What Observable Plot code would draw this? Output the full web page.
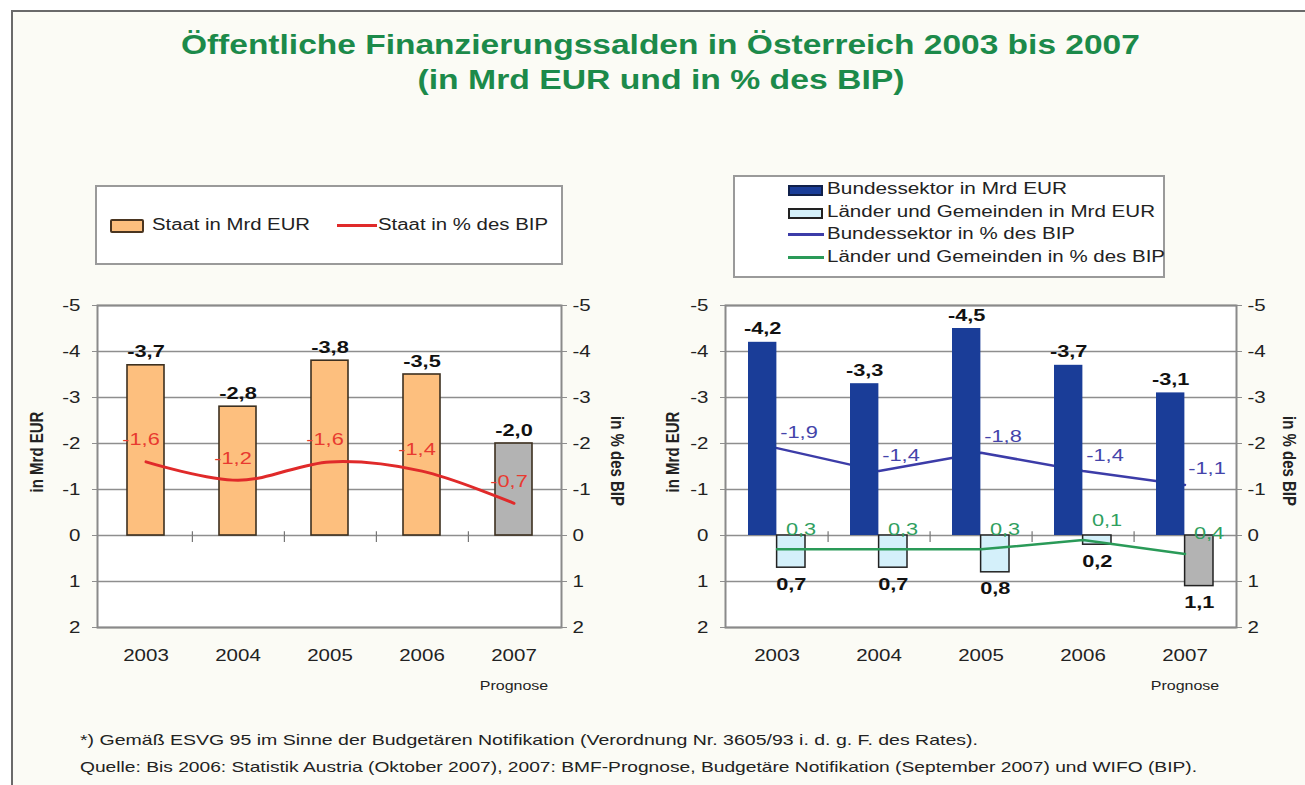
<!DOCTYPE html>
<html>
<head>
<meta charset="utf-8">
<script src="https://cdn.jsdelivr.net/npm/d3@7"></script>
<script src="https://cdn.jsdelivr.net/npm/@observablehq/plot@0.6"></script>
<style>
  html, body { margin: 0; padding: 0; background: #ffffff; }
  #page { position: relative; width: 1305px; height: 785px; overflow: hidden; background: #ffffff;
          font-family: "Liberation Sans", Arial, sans-serif; color: #222; }
  #sheet { position: absolute; left: 11px; top: 10px; right: 0; bottom: 0; background: #fbfbf5;
           border-top: 2px solid #6a6a6a; border-left: 2px solid #6a6a6a; }
  .title { position: absolute; left: 8px; width: 1305px; text-align: center; color: #1c8a4a;
           font-weight: bold; font-size: 27px; line-height: 32px; }
  .title span { display: inline-block; transform-origin: 50% 50%; }
  .legend { position: absolute; background: #fff; border: 2px solid #9a9a9a; box-sizing: border-box; }
  .item { position: absolute; font-size: 16px; line-height: 18px; white-space: nowrap; transform-origin: 0 50%; }
  .sw { position: absolute; }
  .foot { position: absolute; left: 80px; font-size: 14.5px; line-height: 18px; white-space: nowrap; color: #222;
          transform-origin: 0 50%; }
  .atitle { position: absolute; font-weight: bold; font-size: 15px; white-space: nowrap; color: #222; }
  svg.chart { position: absolute; }
</style>
</head>
<body>
<div id="page">
  <div id="sheet"></div>
  <div class="title" style="top:29px;"><span data-w="959">Öffentliche Finanzierungssalden in Österreich 2003 bis 2007</span></div>
  <div class="title" style="top:64px;"><span data-w="487">(in Mrd EUR und in % des BIP)</span></div>

  <div class="legend" style="left:95px; top:185px; width:468px; height:80px;">
    <div class="sw" style="left:13px; top:32px; width:30px; height:10px; background:#fdbf7e; border:2px solid #4a3520; border-radius:2px;"></div>
    <div class="item" data-w="158" style="left:55px; top:29px;">Staat in Mrd EUR</div>
    <div class="sw" style="left:240px; top:37px; width:40px; height:3px; background:#e02a2a;"></div>
    <div class="item" data-w="170" style="left:281px; top:29px;">Staat in % des BIP</div>
  </div>

  <div class="legend" style="left:733px; top:175px; width:432px; height:103px;">
    <div class="sw" style="left:53px; top:8px; width:31px; height:7px; background:#1a3d98; border:2px solid #10204a;"></div>
    <div class="item" data-w="240" style="left:92px; top:3px;">Bundessektor in Mrd EUR</div>
    <div class="sw" style="left:53px; top:31px; width:31px; height:7px; background:#d4f0fa; border:2px solid #222;"></div>
    <div class="item" data-w="328" style="left:92px; top:26px;">Länder und Gemeinden in Mrd EUR</div>
    <div class="sw" style="left:53px; top:56px; width:36px; height:3px; background:#3c3ca8;"></div>
    <div class="item" data-w="248" style="left:92px; top:48px;">Bundessektor in % des BIP</div>
    <div class="sw" style="left:53px; top:79px; width:36px; height:3px; background:#2a9a58;"></div>
    <div class="item" data-w="338" style="left:92px; top:71px;">Länder und Gemeinden in % des BIP</div>
  </div>

  <div class="foot" data-w="898" style="top:731px;">*) Gemäß ESVG 95 im Sinne der Budgetären Notifikation (Verordnung Nr. 3605/93 i. d. g. F. des Rates).</div>
  <div class="foot" data-w="1117" style="top:758px;">Quelle: Bis 2006: Statistik Austria (Oktober 2007), 2007: BMF-Prognose, Budgetäre Notifikation (September 2007) und WIFO (BIP).</div>
</div>
<script>
// ---- data ----
const years = ["2003", "2004", "2005", "2006", "2007"];
const prognoseYear = "2007";
const staatMrd = [-3.7, -2.8, -3.8, -3.5, -2.0];
const staatPct = [-1.6, -1.2, -1.6, -1.4, -0.7];
const bundMrd = [-4.2, -3.3, -4.5, -3.7, -3.1];
const laenderMrd = [0.7, 0.7, 0.8, 0.2, 1.1];
const bundPct = [-1.9, -1.4, -1.8, -1.4, -1.1];
const laenderPct = [0.3, 0.3, 0.3, 0.1, 0.4];
const yTicks = [-5, -4, -3, -2, -1, 0, 1, 2];
const yDomain = [2, -5];
const leftTitle = "in Mrd EUR";
const rightTitle = "in % des BIP";

const fmt = v => v.toFixed(1).replace(".", ",");
const rows = arr => years.map((year, i) => ({year, value: arr[i]}));

const FONT = "Liberation Sans, Arial, sans-serif";
const GRID = "#8e8e8e";
const STRETCH = 1.28;
const page = document.getElementById("page");

// stretch glyphs horizontally (the original artwork is widened)
function stretchText(svg) {
  svg.querySelectorAll("text").forEach(t => {
    const x = parseFloat(t.getAttribute("x")) || 0;
    const y = parseFloat(t.getAttribute("y")) || 0;
    const tr = t.getAttribute("transform") || "";
    t.setAttribute("transform", `${tr} translate(${x},${y}) scale(${STRETCH},1) translate(${-x},${-y})`);
  });
}

function commonMarks(step) {
  return [
    Plot.frame({fill: "#ffffff", stroke: null}),
    Plot.gridY(yTicks, {stroke: GRID, strokeOpacity: 1, strokeWidth: 1.3}),
    Plot.axisY(yTicks, {anchor: "left", tickFormat: d => String(d), tickSize: 5, tickPadding: 12,
      label: null, fontSize: 16, stroke: GRID}),
    Plot.axisY(yTicks, {anchor: "right", tickFormat: d => String(d), tickSize: 5, tickPadding: 6,
      label: null, fontSize: 16, stroke: GRID}),
    Plot.axisX({tickSize: 0, tickPadding: 22, label: null, fontSize: 16}),
    Plot.ruleX(years.slice(0, -1), {x: d => d, y1: -0.08, y2: 0.15, dx: step / 2, stroke: "#777", strokeWidth: 1.2}),
    Plot.text([prognoseYear], {x: d => d, text: () => "Prognose", frameAnchor: "bottom", dy: 62, fontSize: 12.5})
  ];
}

function addTitle(text, cx, cy, rot) {
  const d = document.createElement("div");
  d.className = "atitle";
  d.textContent = text;
  d.style.left = cx + "px";
  d.style.top = cy + "px";
  d.style.transform = `translate(-50%,-50%) rotate(${rot}deg) scaleY(${STRETCH})`;
  page.appendChild(d);
}

// ---- left chart ----
{
  const W = 651, H = 410, ml = 97, mr = 90, mt = 15, mb = 73;
  const step = (W - ml - mr) / years.length;
  const staat = rows(staatMrd);
  const pct = rows(staatPct);
  const chart = Plot.plot({
    width: W, height: H, marginLeft: ml, marginRight: mr, marginTop: mt, marginBottom: mb,
    style: {background: "transparent", fontFamily: FONT, fontSize: "15px", color: "#222", overflow: "visible"},
    x: {domain: years, paddingInner: 0.6, paddingOuter: 0.3},
    y: {domain: yDomain},
    marks: [
      ...commonMarks(step),
      Plot.barY(staat, {x: "year", y: "value", fill: d => d.year === prognoseYear ? "#b3b3b3" : "#fdbf7e",
        stroke: "#3d3020", strokeWidth: 1.6}),
      Plot.text(staat, {x: "year", y: "value", text: d => fmt(d.value), lineAnchor: "bottom", dy: -8,
        fontWeight: "bold", fontSize: 17, fill: "#111"}),
      Plot.line(pct, {x: "year", y: "value", curve: "catmull-rom", stroke: "#e02a2a", strokeWidth: 3}),
      Plot.text(pct, {x: "year", y: "value", text: d => fmt(d.value), dx: -5, dy: -22,
        fontSize: 17, fill: "#e83a30"}),
      Plot.frame({stroke: "#8a8a8a", strokeWidth: 2})
    ]
  });
  chart.classList.add("chart");
  chart.style.left = "0px";
  chart.style.top = "290px";
  stretchText(chart);
  page.appendChild(chart);
  addTitle(leftTitle, 36, 452, -90);
  addTitle(rightTitle, 618, 461, 90);
}

// ---- right chart ----
{
  const W = 650, H = 410, ml = 74, mr = 65, mt = 15, mb = 73;
  const step = (W - ml - mr) / years.length;
  const half = step * 0.56 / 2;
  const bund = rows(bundMrd);
  const laender = rows(laenderMrd);
  const bp = rows(bundPct);
  const lp = rows(laenderPct);
  const chart = Plot.plot({
    width: W, height: H, marginLeft: ml, marginRight: mr, marginTop: mt, marginBottom: mb,
    style: {background: "transparent", fontFamily: FONT, fontSize: "15px", color: "#222", overflow: "visible"},
    x: {domain: years, paddingInner: 0.44, paddingOuter: 0.22},
    y: {domain: yDomain},
    marks: [
      ...commonMarks(step),
      Plot.line(bp, {x: "year", y: "value", stroke: "#3c3ca8", strokeWidth: 2.5}),
      Plot.barY(bund, {x: "year", y: "value", insetRight: half, fill: "#1a3d98"}),
      Plot.barY(laender, {x: "year", y: "value", insetLeft: half,
        fill: d => d.year === prognoseYear ? "#b3b3b3" : "#d4f0fa", stroke: "#222", strokeWidth: 1.5}),
      Plot.line(lp, {x: "year", y: "value", stroke: "#2a9a58", strokeWidth: 2.5}),
      Plot.text(bund, {x: "year", y: "value", dx: -half / 2, text: d => fmt(d.value), lineAnchor: "bottom", dy: -8,
        fontWeight: "bold", fontSize: 17, fill: "#111"}),
      Plot.text(laender, {x: "year", y: "value", dx: half / 2, text: d => fmt(d.value), lineAnchor: "top", dy: 10,
        fontWeight: "bold", fontSize: 17, fill: "#111"}),
      Plot.text(bp, {x: "year", y: "value", text: d => fmt(d.value), dx: 22, dy: -16, fontSize: 17, fill: "#4444aa"}),
      Plot.text(lp, {x: "year", y: "value", text: d => fmt(d.value), dx: 24, dy: -20, fontSize: 17, fill: "#2f9f60"}),
      Plot.frame({stroke: "#8a8a8a", strokeWidth: 2})
    ]
  });
  chart.classList.add("chart");
  chart.style.left = "651px";
  chart.style.top = "290px";
  stretchText(chart);
  page.appendChild(chart);
  addTitle(leftTitle, 672, 452, -90);
  addTitle(rightTitle, 1290, 461, 90);
}

// fit HTML texts to the widths measured in the original
document.querySelectorAll("[data-w]").forEach(el => {
  const w = el.getBoundingClientRect().width;
  const target = +el.dataset.w;
  if (w > 0) el.style.transform = `scaleX(${target / w})`;
});
</script>
</body>
</html>
